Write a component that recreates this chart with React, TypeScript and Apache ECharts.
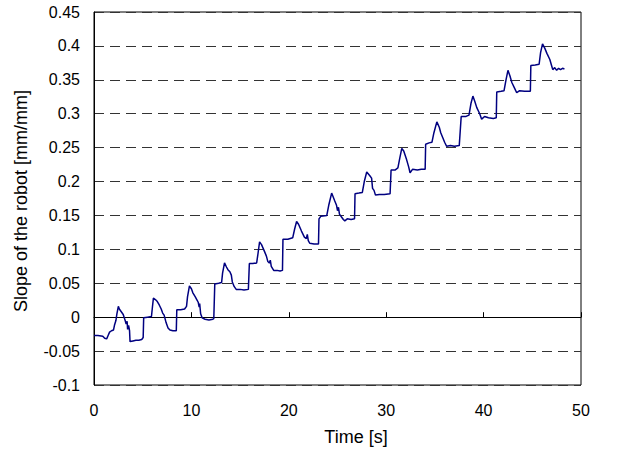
import React, { useEffect, useRef } from "react";
import * as echarts from "echarts";

const xTicks = [0, 10, 20, 30, 40, 50];
const yTicks = [-0.1, -0.05, 0, 0.05, 0.1, 0.15, 0.2, 0.25, 0.3, 0.35, 0.4, 0.45];
const xName = "Time [s]";
const yName = "Slope of the robot [mm/mm]";

const times: number[] = [
  0, 0.4, 0.9, 1.1, 1.3, 1.45, 1.6, 1.8, 2.0, 2.1, 2.25, 2.35, 2.5, 2.6, 2.8, 3.0, 3.2, 3.3, 3.4, 3.45, 3.55, 3.65, 3.7,
  4.0, 4.3, 4.6, 4.9, 5.05, 5.1, 5.5, 5.9, 6.0, 6.1, 6.3, 6.5, 6.7, 6.9, 7.05, 7.2, 7.4, 7.6, 7.8, 8.1, 8.45,
  8.5, 8.9, 9.3, 9.5, 9.6, 9.8, 10.0, 10.15, 10.4, 10.55, 10.7, 10.8, 10.85, 10.95, 11.1, 11.4, 11.8, 12.2, 12.3,
  12.4, 12.8, 13.1, 13.2, 13.4, 13.6, 13.75, 13.95, 14.1, 14.2, 14.4, 14.6, 15.0, 15.4, 15.85,
  15.95, 16.3, 16.7, 16.85, 17.0, 17.2, 17.5, 17.7, 17.85, 18.0, 18.1, 18.2, 18.45, 18.8, 19.1, 19.35,
  19.4, 19.9, 20.4, 20.6, 20.8, 21.0, 21.3, 21.6, 21.8, 21.9, 22.0, 22.15, 22.6, 23.05,
  23.1, 23.3, 23.9, 24.1, 24.4, 24.7, 24.9, 25.0, 25.1, 25.2, 25.45, 25.6, 25.75, 26.0, 26.4, 26.75,
  26.8, 27.2, 27.55, 27.75, 28.0, 28.3, 28.5, 28.6, 28.75, 28.9, 29.3, 29.8, 30.4,
  30.5, 30.9, 31.2, 31.4, 31.6, 31.8, 32.1, 32.3, 32.45, 32.7, 33.2, 33.6, 34.0,
  34.05, 34.4, 34.7, 34.9, 35.2, 35.45, 35.6, 35.8, 36.0, 36.2, 36.6, 37.0, 37.5,
  37.7, 38.2, 38.5, 38.7, 38.9, 39.1, 39.3, 39.6, 39.8, 40.1, 40.5, 41.0, 41.3,
  41.35, 41.8, 42.1, 42.3, 42.5, 42.7, 42.9, 43.2, 43.4, 43.7, 44.2, 44.8,
  44.85, 45.3, 45.7, 45.85, 46.05, 46.3, 46.5, 46.8, 47.0, 47.1, 47.3, 47.5, 47.7, 47.9, 48.1, 48.3,
];

const slopes: number[] = [
  -0.027, -0.027, -0.028, -0.031, -0.032, -0.027, -0.022, -0.02, -0.019, -0.012, -0.005, 0.005, 0.016, 0.012, 0.008, 0.004, -0.005, -0.01, -0.006, -0.018, -0.012, -0.02, -0.036,
  -0.035, -0.034, -0.034, -0.033, -0.03, -0.001, 0.0, 0.001, 0.015, 0.028, 0.026, 0.023, 0.018, 0.012, 0.006, 0.003, -0.008, -0.016, -0.019, -0.02, -0.02,
  0.011, 0.011, 0.012, 0.016, 0.03, 0.046, 0.042, 0.036, 0.03, 0.026, 0.022, 0.015, 0.02, 0.005, -0.001, -0.003, -0.004, -0.003, -0.002,
  0.049, 0.05, 0.051, 0.065, 0.08, 0.074, 0.07, 0.067, 0.062, 0.052, 0.045, 0.041, 0.041, 0.04, 0.041,
  0.079, 0.079, 0.08, 0.095, 0.111, 0.107, 0.097, 0.09, 0.082, 0.08, 0.084, 0.075, 0.069, 0.069, 0.068, 0.069,
  0.115, 0.115, 0.117, 0.13, 0.141, 0.137, 0.127, 0.118, 0.116, 0.122, 0.113, 0.109, 0.108, 0.108,
  0.145, 0.149, 0.15, 0.165, 0.183, 0.172, 0.165, 0.157, 0.162, 0.152, 0.147, 0.144, 0.142, 0.145, 0.144, 0.145,
  0.182, 0.183, 0.184, 0.2, 0.214, 0.209, 0.205, 0.19, 0.187, 0.18, 0.181, 0.181, 0.182,
  0.217, 0.217, 0.22, 0.235, 0.249, 0.245, 0.232, 0.222, 0.213, 0.218, 0.217, 0.218, 0.218,
  0.255, 0.257, 0.258, 0.272, 0.288, 0.28, 0.272, 0.265, 0.258, 0.252, 0.253, 0.252, 0.253,
  0.296, 0.296, 0.298, 0.315, 0.326, 0.318, 0.309, 0.3, 0.292, 0.296, 0.294, 0.293, 0.294,
  0.332, 0.333, 0.334, 0.35, 0.364, 0.356, 0.346, 0.337, 0.331, 0.334, 0.333, 0.333,
  0.371, 0.372, 0.373, 0.39, 0.403, 0.396, 0.389, 0.38, 0.37, 0.365, 0.368, 0.364, 0.367, 0.365, 0.367, 0.366,
];

export default function App() {
  const ref = useRef<HTMLDivElement>(null);
  useEffect(() => {
    if (!ref.current) return;
    const chart = echarts.init(ref.current, undefined, { renderer: "svg" });
    const data = times.map((t, i) => [t, slopes[i]]);
    const font = "Liberation Sans, Arial, sans-serif";
    chart.setOption({
      animation: false,
      backgroundColor: "#ffffff",
      grid: {
        left: 94,
        right: 60,
        top: 12,
        bottom: 67,
        show: true,
        borderColor: "#000",
        borderWidth: 1,
      },
      graphic: [
        {
          type: "text",
          x: 356,
          y: 437,
          style: {
            text: xName,
            font: `18px ${font}`,
            fill: "#000",
            textAlign: "center",
            textVerticalAlign: "middle",
          },
        },
        {
          type: "text",
          x: 21,
          y: 201,
          rotation: Math.PI / 2,
          style: {
            text: yName,
            font: `18px ${font}`,
            fill: "#000",
            textAlign: "center",
            textVerticalAlign: "middle",
          },
        },
      ],
      xAxis: {
        type: "value",
        min: xTicks[0],
        max: xTicks[xTicks.length - 1],
        interval: 10,
        axisLine: { lineStyle: { color: "#000", width: 1 } },
        axisTick: { show: true, inside: true, length: 5, lineStyle: { color: "#000" } },
        axisLabel: { fontFamily: font, fontSize: 16, color: "#000", margin: 17 },
        splitLine: { show: false },
      },
      yAxis: {
        type: "value",
        min: yTicks[0],
        max: yTicks[yTicks.length - 1],
        interval: 0.05,
        axisLine: { show: true, lineStyle: { color: "#000", width: 1 } },
        axisTick: { show: false },
        axisLabel: {
          fontFamily: font,
          fontSize: 16,
          color: "#000",
          margin: 14,
          formatter: (v: number) => {
            const r = Math.round(v * 100) / 100;
            return String(r);
          },
        },
        splitLine: { show: true, lineStyle: { color: "#333", type: [10, 6], width: 1 } },
      },
      series: [
        {
          type: "line",
          data,
          showSymbol: false,
          symbol: "none",
          lineStyle: { color: "#000080", width: 1.5 },
        },
      ],
    });
    return () => chart.dispose();
  }, []);
  return (
    <div
      ref={ref}
      style={{ position: "absolute", left: 0, top: 0, width: 641, height: 452 }}
    />
  );
}
